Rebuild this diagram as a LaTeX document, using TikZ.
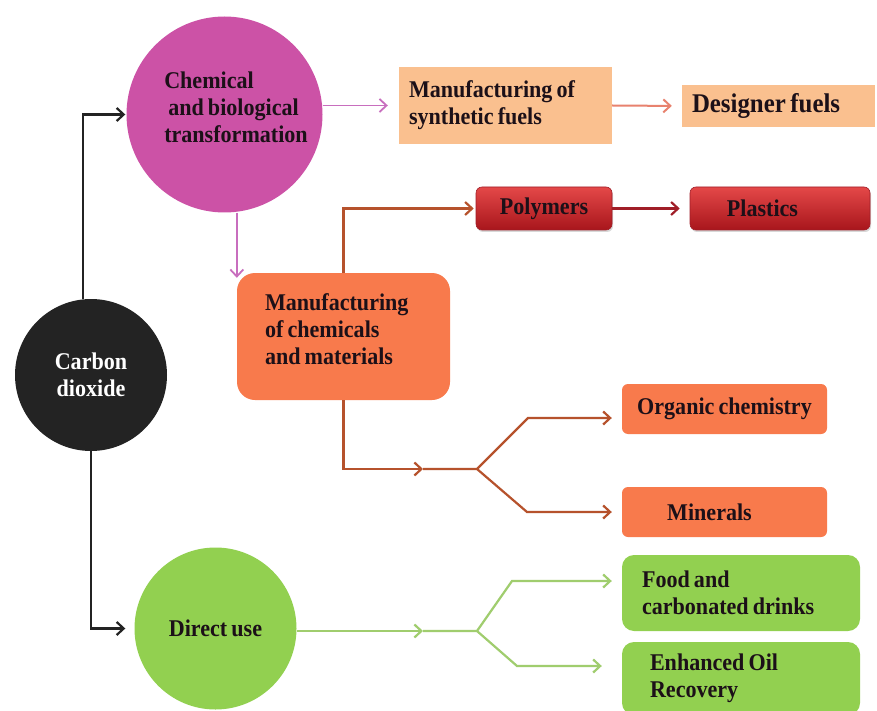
\documentclass[tikz,border=0pt]{standalone}
\usepackage{fontspec}
\setmainfont{Liberation Serif}[FakeStretch=0.92, WordSpace=0.75]
\usetikzlibrary{arrows.meta,shadows}
\definecolor{cblack}{RGB}{35,35,35}
\definecolor{cmag}{RGB}{204,82,166}
\definecolor{cpink}{RGB}{200,110,190}
\definecolor{cpeach}{RGB}{250,192,143}
\definecolor{csalmon}{RGB}{232,130,110}
\definecolor{credtop}{RGB}{228,72,72}
\definecolor{credbot}{RGB}{168,22,28}
\definecolor{cdarkred}{RGB}{160,30,40}
\definecolor{cbrown}{RGB}{182,82,44}
\definecolor{corange}{RGB}{248,122,76}
\definecolor{cgreen}{RGB}{146,208,80}
\definecolor{cgline}{RGB}{160,205,110}
\definecolor{ctext}{RGB}{28,16,24}
\begin{document}
\begin{tikzpicture}[x=1pt,y=-1pt,
  every node/.style={font=\fontsize{24}{27}\selectfont\bfseries, text=ctext, inner sep=0pt},
  tipped/.style={-{Straight Barb[length=7pt,width=13pt]}},
  conn/.style={line width=2.2pt, tipped},
  redbox/.style={rounded corners=6pt, top color=credtop, bottom color=credbot, draw=cdarkred, line width=0.6pt,
    drop shadow={shadow xshift=1pt, shadow yshift=-2pt, opacity=.3, fill=gray}},
  obox/.style={fill=corange},
  gbox/.style={fill=cgreen, rounded corners=12pt},
  pbox/.style={fill=cpeach}]
\useasboundingbox[fill=white] (0,0) rectangle (877,711);

% main circles
\node[circle, fill=cblack, minimum size=152pt, text=white, align=center] (co2) at (91,375) {Carbon\\dioxide};
\node[circle, fill=cmag, minimum size=196pt] (chem) at (224.5,114.5) {};
\node[align=flush left] (chemlbl) at (236,107) {Chemical\\\hspace*{4pt}and biological\\transformation};
\node[circle, fill=cgreen, minimum size=162pt] (direct) at (215.5,628.5) {Direct use};

% fuels branch
\node[pbox, minimum width=213pt, minimum height=77pt, text width=193pt, inner xsep=10pt, align=flush left] (synf) at (505.5,105.5) {Manufacturing of\\synthetic fuels};
\node[pbox, minimum width=193pt, minimum height=42pt, text width=173pt, inner xsep=10pt, align=flush left,
      font=\fontsize{27}{30}\selectfont\bfseries] (dfuel) at (778.5,106) {Designer fuels};

% chemicals branch
\node[redbox, minimum width=136pt, minimum height=43pt] (poly) at (544,208.5) {Polymers};
\node[redbox, minimum width=180pt, minimum height=43pt] (plas) at (780,208.5) {Plastics\rule{35pt}{0pt}};
\node[obox, rounded corners=18pt, minimum width=213pt, minimum height=127pt, text width=157pt, inner xsep=28pt, align=flush left] (mchem) at (343.5,336.5) {Manufacturing\\of chemicals\\and materials\\[-12pt]\mbox{}};
\node[obox, rounded corners=6pt, minimum width=205pt, minimum height=50pt] (org) at (724.5,409) {Organic chemistry};
\node[obox, rounded corners=6pt, minimum width=205pt, minimum height=50pt] (min) at (724.5,512) {Minerals\rule{30pt}{0pt}};

% direct use branch
\node[gbox, minimum width=238pt, minimum height=76pt, text width=198pt, inner xsep=20pt, align=flush left] (food) at (741,593) {Food and\\carbonated drinks};
\node[gbox, minimum width=238pt, minimum height=73pt, text width=182pt, inner xsep=28pt, align=flush left] (eor) at (741,678.5) {Enhanced Oil\\Recovery};

% fork coordinates
\coordinate (bm) at (423,469);
\coordinate (bf) at (477,469);
\coordinate (bu) at (528,418);
\coordinate (bd) at (527,512);
\coordinate (gm) at (423,631);
\coordinate (gf) at (477,631);
\coordinate (gu) at (512,581);
\coordinate (gd) at (517,666);

% connectors
\draw[conn, cblack, shorten >=1pt] (co2.96) |- (chem.west);
\draw[conn, cblack, shorten >=9pt] (co2.south) |- (direct.west);
\draw[conn, cpink, line width=1.8pt, shorten >=11pt] (chem.east |- synf.west) -- (synf.west);
\draw[conn, cpink, line width=1.8pt] (mchem.north west |- chem.south) -- ([yshift=-5pt]mchem.north west);
\draw[conn, csalmon, line width=2pt, shorten >=10pt] (synf.east) -- (dfuel.west);
\draw[conn, cbrown, shorten >=2pt] (mchem.north) |- (poly.west);
\draw[conn, cdarkred, shorten >=10pt] (poly.east) -- (plas.west);
\draw[conn, cbrown] (mchem.south) |- (bm);
\draw[conn, cbrown, shorten >=10pt] (bm) -- (bf) -- (bu) -- (org.west |- bu);
\draw[conn, cbrown, shorten >=10pt] (bf) -- (bd) -- (min.west |- bd);
\draw[conn, cgline] (direct.east |- gm) -- (gm);
\draw[conn, cgline, shorten >=10pt] (gm) -- (gf) -- (gu) -- (food.west |- gu);
\draw[conn, cgline, shorten >=20pt] (gf) -- (gd) -- (eor.west |- gd);
\end{tikzpicture}
\end{document}
